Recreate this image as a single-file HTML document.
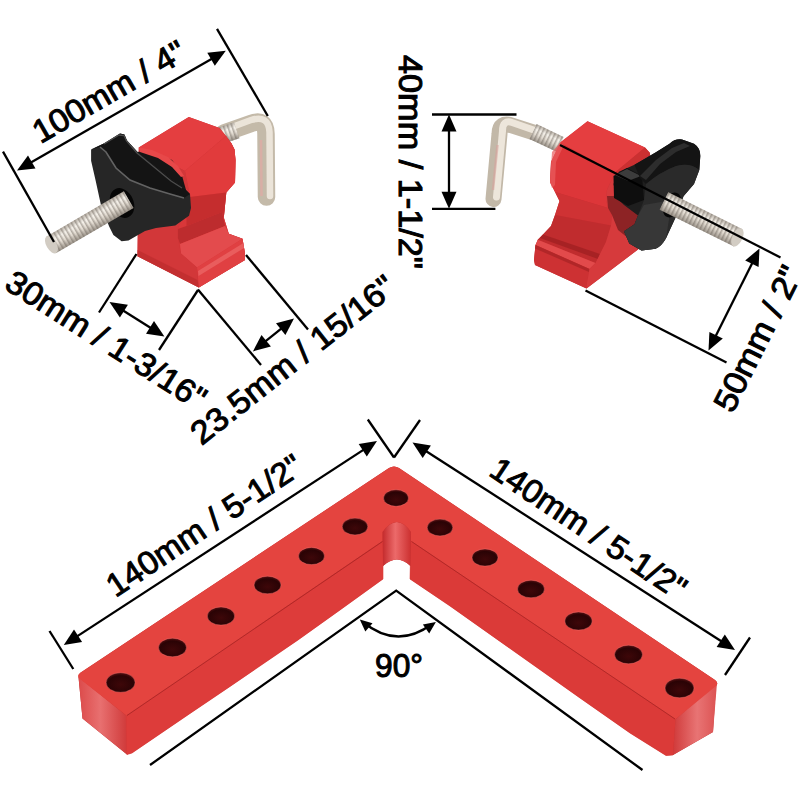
<!DOCTYPE html>
<html><head><meta charset="utf-8">
<style>
html,body{margin:0;padding:0;background:#fff;width:800px;height:800px;overflow:hidden}
svg{display:block}
text{font-family:"Liberation Sans",sans-serif;fill:#000}
</style></head>
<body>
<svg width="800" height="800" viewBox="0 0 800 800">
<defs>
  <linearGradient id="gEndL" x1="0" y1="0" x2="1" y2="0">
    <stop offset="0" stop-color="#dc4a4a"/><stop offset="0.45" stop-color="#e87070"/><stop offset="1" stop-color="#d03a3a"/>
  </linearGradient>
  <linearGradient id="gEndR" x1="0" y1="0" x2="1" y2="0">
    <stop offset="0" stop-color="#d03a3a"/><stop offset="0.55" stop-color="#e87474"/><stop offset="1" stop-color="#dc5252"/>
  </linearGradient>
  <radialGradient id="gHole" cx="0.5" cy="0.6" r="0.6">
    <stop offset="0" stop-color="#3e0709"/><stop offset="0.75" stop-color="#2a0305"/><stop offset="1" stop-color="#5a1012"/>
  </radialGradient>
  <linearGradient id="gNotch" x1="0" y1="0" x2="1" y2="0">
    <stop offset="0" stop-color="#c42a2c"/><stop offset="0.45" stop-color="#ec6a6a"/><stop offset="1" stop-color="#cc3030"/>
  </linearGradient>
  <linearGradient id="gBolt" x1="0" y1="0" x2="0" y2="1">
    <stop offset="0" stop-color="#a9a39b"/><stop offset="0.35" stop-color="#e6e0d8"/><stop offset="1" stop-color="#8e8880"/>
  </linearGradient>
  <linearGradient id="gRod" x1="0" y1="-1" x2="0" y2="1" gradientUnits="objectBoundingBox">
    <stop offset="0" stop-color="#8f877e"/><stop offset="0.3" stop-color="#e9e3da"/><stop offset="0.55" stop-color="#d2cbc1"/><stop offset="1" stop-color="#857d74"/>
  </linearGradient>
  <linearGradient id="gBoltV" x1="0" y1="0" x2="0" y2="1">
    <stop offset="0" stop-color="#b8b0a6"/><stop offset="0.3" stop-color="#f5f1ea"/><stop offset="0.6" stop-color="#e2dbd1"/><stop offset="1" stop-color="#9c948a"/>
  </linearGradient>
  <pattern id="pThread" width="4" height="40" patternUnits="userSpaceOnUse">
    <rect x="0" y="0" width="1.6" height="40" fill="#6a6258" opacity="0.45"/>
  </pattern>
  <linearGradient id="gKnob" x1="0" y1="0" x2="0" y2="1">
    <stop offset="0" stop-color="#2e2e2e"/><stop offset="1" stop-color="#0c0c0c"/>
  </linearGradient>

</defs>
<g id="bracket">
  <path d="M389,468 Q394,465 399,468 L715,680 Q719,683 716,686 L713,732 L673,755 L666,755.5 L630,733 L580,698 L450,606 L410,579 L410.5,566 Q397,553 383,566 L383,579 L340,610 L298,640 L230,686.5 L190,713.5 L132,753 L127,754.5 L82.5,718.5 L78.5,677 L80,673 Z" fill="#b82a2a"/>
  <polygon points="78.5,677 126.3,715.5 127,754.5 82.5,718.5" fill="url(#gEndL)"/>
  <polygon points="126.3,715.5 383,541 383,579 340,610 298,640 230,686.5 190,713.5 132,753 127,754.5" fill="#dd3c3a" stroke="#dd3c3a" stroke-width="0.6"/>
  <polygon points="411,541 675.5,719.3 673,755 666,755.5 630,733 580,698 450,606 410,579" fill="#db3a38" stroke="#db3a38" stroke-width="0.6"/>
  <polygon points="675.5,719.3 717,683 713,732 673,755" fill="url(#gEndR)"/>
  <path d="M382.5,532 Q397,512 411,532 L410.5,566 Q397,553 383,566 Z" fill="url(#gNotch)"/>
  <path d="M389,468 Q394,465 399,468 L715,680 Q719,683 716,686 L675.5,719.3 L411,541 L411,532 Q397,512 382.5,532 L382.5,541 L126.3,715.5 L80,679 Q76,676 80,673 Z" fill="#e4443f"/>
  <g stroke="#a82424" stroke-width="1" fill="none" opacity="0.8">
    <path d="M127,715.5 L382.5,541.5"/>
    <path d="M411.5,541.5 L675,719"/>
  </g>
  <g fill="url(#gHole)" stroke="#f27a76" stroke-width="0.7" stroke-opacity="0.55">
    <ellipse cx="120.6" cy="682.5" rx="14.5" ry="9.8"/>
    <ellipse cx="172.5" cy="647.5" rx="14.0" ry="9.3"/>
    <ellipse cx="221" cy="616" rx="13.7" ry="9.1"/>
    <ellipse cx="267.5" cy="585" rx="13.5" ry="8.8"/>
    <ellipse cx="311.5" cy="556" rx="13.0" ry="8.6"/>
    <ellipse cx="355" cy="526.5" rx="12.8" ry="8.4"/>
    <ellipse cx="396" cy="498" rx="12.5" ry="8.3"/>
    <ellipse cx="440" cy="527.5" rx="12.8" ry="8.4"/>
    <ellipse cx="485" cy="557.5" rx="13.0" ry="8.6"/>
    <ellipse cx="531" cy="589" rx="13.5" ry="8.8"/>
    <ellipse cx="578.5" cy="621" rx="13.7" ry="9.1"/>
    <ellipse cx="628.5" cy="654.5" rx="14.0" ry="9.3"/>
    <ellipse cx="679.5" cy="688" rx="14.5" ry="9.8"/>
  </g>
</g>

<!-- ===== CLAMP 1 (left) ===== -->
<g id="clamp1">
  <!-- hook -->
  <path d="M224,133 L251,123.5 Q266,118 266,134 L266.5,197" fill="none" stroke="#c4baa9" stroke-width="17.5" stroke-linecap="round" stroke-linejoin="round"/>
  <path d="M228,128.5 L251,120 Q268.5,114.5 269.5,132 L270,196" fill="none" stroke="#ede6db" stroke-width="6.5" stroke-linecap="round" opacity="0.95"/>
  <path d="M261,140 L261.5,196" stroke="#e2a9a4" stroke-width="2.5" opacity="0.7"/>
  <g transform="translate(214,138) rotate(-19)">
    <rect x="0" y="-8.5" width="24" height="17" fill="url(#gBoltV)"/>
    <rect x="0" y="-8.5" width="24" height="17" fill="url(#pThread)"/>
  </g>
  <path d="M138.8,147.5 L188.8,117 L219.5,128 L226,136 L231.5,143.5 L234.5,149.5 L235.5,160 L235,182.5 L226.3,192.5 L223.8,217.5 L228.8,233.8 L242.5,238.8 L245,253.5 L245,260 L198.8,287.5 L137.5,256.3 Z" fill="#c83034"/>
  <!-- top face -->
  <polygon points="138.8,147.5 188.8,117 219.5,128 226,136 185,171" fill="#e43e40"/>
  <!-- extruded S surface -->
  <path d="M185,171 L226,136 L231.5,143.5 L234.5,149.5 L235.5,160 L235,182.5 L226.3,192.5 L223.8,217.5 L228.8,233.8 L242.5,238.8 L245,253.5 L245,260 L198.8,287.5 L197,267.5 L181,253.5 L177.8,237.8 L177.8,229 L186.5,206 L190,195.8 Z" fill="#d93739"/>
  <!-- upper vertical part (bright) -->
  <path d="M185,171 L226,136 L231.5,143.5 L234.5,149.5 L235.5,160 L235,182.5 L226.3,192.5 L190,197 Z" fill="#e13b3c"/>
  <!-- concave waist dark band -->
  <path d="M190,197 L226.3,192.5 L223.8,217.5 L222,212 L186.5,226 L186.5,206 Z" fill="#c52d2e"/>
  <path d="M186.5,226 L222,212 L225,226 L180,244 L177.8,237.8 L177.8,229 Z" fill="#bd2c2e"/>
  <!-- foot step (lit) -->
  <path d="M180,244 L225,226 L228.8,233.8 L242.5,238.8 L197,267.5 L181,253.5 Z" fill="#e34b4d"/>
  <!-- foot front (lit) -->
  <path d="M197,267.5 L242.5,238.8 L245,253.5 L245,260 L198.8,287.5 Z" fill="#e04042"/>
  <path d="M198,271 L243.5,243 L244,248 L198.5,276 Z" fill="#f17474" opacity="0.55"/>
  <!-- near profile face (lower visible part) -->
  <path d="M138.8,147.5 L185,171 L190,195.8 L186.5,206 L177.8,229 L177.8,237.8 L181,253.5 L197,267.5 L198.8,287.5 L137.5,256.3 Z" fill="#d23739"/>
  <path d="M137.5,250 L197.5,280 L198.8,287.5 L137.5,256.3 Z" fill="#b92a2c" opacity="0.6"/>
  <!-- hub -->
  <path d="M136,152 L152,151 L172,160 L181,172 L186,190 L170,205 L140,200 Z" fill="#151515"/>
  <path d="M138.8,147.5 L152,150 L168,157 L178,166 L184,176 L181,177 L172,167 L158,158 L140,152 Z" fill="#e74849"/>
  <!-- knob -->
  <path d="M91.1,149.4 L104.3,143.3 L120,133.6 L124.4,134.5 L127,140.6 L137.5,152 L155,166 L172.5,180 L183,187 L190,194 L191,208 L189,215.8 L175.3,225.4 L156,228 L145,231 L135.4,236.4 L128.5,240.5 L121.6,241.2 L113.4,235 L109.3,226.8 L101.6,208 L95.5,180 L91.1,160.8 Z" fill="#262626"/>
  <!-- knob top surface -->
  <path d="M91.1,149.4 L104.3,143.3 L120,133.6 L124.4,134.5 L127,140.6 L137.5,152 L155,166 L172.5,180 L183,187 L190,194 L184,198 L170,194 L150,188 L130,180 L116,168 L106,152 L100,147 Z" fill="#141414"/>
  <path d="M100,147 L106,152 L116,168 L130,180 L150,188 L170,194 L184,198" fill="none" stroke="#6a6a6a" stroke-width="1.6" opacity="0.9"/>
  <path d="M104,144 L119,135 L124,135.5 L126.5,141 L137,153 L154,167 L171,181 L182,188" fill="none" stroke="#5a5a5a" stroke-width="1.3" opacity="0.8"/>
  <ellipse cx="122" cy="203" rx="11.5" ry="15.5" transform="rotate(-25 122 203)" fill="#060606"/>
  <!-- bolt -->
  <g transform="translate(51,245) rotate(-30.3)">
    <rect x="0" y="-9.6" width="90" height="19.2" fill="url(#gBoltV)"/>
    <rect x="4" y="-9.6" width="86" height="19.2" fill="url(#pThread)"/>
    <ellipse cx="0.5" cy="0" rx="5" ry="9.6" fill="#d2ccc3"/>
  </g>
</g>

<!-- ===== CLAMP 2 (right) ===== -->
<g id="clamp2">
  <!-- hook -->
  <path d="M540,134.5 L512,125.5 Q499.5,121.5 499.5,134 L493.5,199" fill="none" stroke="#c2b8a8" stroke-width="16" stroke-linecap="round" stroke-linejoin="round"/>
  <path d="M538,131.5 L512,122.5 Q502.5,119.5 502.5,131 L496.5,197" fill="none" stroke="#efe8dd" stroke-width="7" stroke-linecap="round" opacity="0.95"/>
  <path d="M497.5,145 L493,190" stroke="#d8a49e" stroke-width="2.5" opacity="0.6"/>
  <g transform="translate(533,131.5) rotate(25.5)">
    <rect x="0" y="-8.2" width="30" height="16.4" fill="url(#gBoltV)"/>
    <rect x="0" y="-8.2" width="30" height="16.4" fill="url(#pThread)"/>
  </g>
  <path d="M560,143 L587.5,121.3 L645,147.5 L650,153 L652,200 L645,240 L638,249.5 L586.5,288.5 L535,265 L534,260 L535.5,245 L537.75,239.75 L543,234.5 L551,226 L555,215 L559.5,201 L555,192 L550,182 L551,162 Z" fill="#c83034"/>
  <!-- extruded S surface (bands) -->
  <path d="M560,143 L551,162 L550,182 L555,192 L608,208 L606,200 L607,190 L615,172.5 Z" fill="#dd3639"/>
  <path d="M552,152 L560,143 L564,145 L556,162 L555,185 L552,188 L550,182 Z" fill="#ea5c5e" opacity="0.7"/>
  <path d="M555,192 L559.5,201 L555,215 L611,225.5 L612,215 L608,208 Z" fill="#cf3234"/>
  <path d="M555,215 L551,226 L543,234.5 L537.75,239.75 L595.5,263 L600,254 L606,242 L611,225.5 Z" fill="#c02c2e"/>
  <path d="M543,234.5 L600,254 L598,259 L540,238 Z" fill="#a02022" opacity="0.8"/>
  <path d="M537.75,239.75 L535.5,245 L589.5,269 L595.5,263 Z" fill="#e24a4b"/>
  <path d="M535.5,245 L534,260 L535,265 L586.5,288.5 L587,283 L589.5,269 Z" fill="#cd3133"/>
  <path d="M535.5,245 L589.5,269 L589,272 L535,248.5 Z" fill="#a52224" opacity="0.7"/>
  <!-- near end face -->
  <path d="M615,172.5 L607,190 L606,200 L608,208 L612,215 L611,225.5 L606,242 L600,254 L595.5,263 L589.5,269 L587,283 L586.5,288.5 L638,249.5 L645,240 L650,200 L650,156 Z" fill="#d63a3c"/>
  <!-- dark red shadow region under hub -->
  <path d="M607,196 L642,196 L639,236 L628,238 L618,230 L612,215 L608,208 Z" fill="#8d2325"/>
  <!-- top face -->
  <polygon points="560,142.5 587.5,121.3 645,147.5 615,172.5" fill="#e53e40"/>
  <path d="M615,172.5 L645,147.5 L650,153 L622,176 Z" fill="#cb3031"/>
  <!-- knob silhouette -->
  <path d="M618.8,171.8 L634.5,164.8 L655.5,152.5 L669.5,143.8 Q675,138.5 682,139.5 L694,143.8 Q700.5,148 700.3,156 L699.3,170 L694,184 L683.5,196.3 L676.5,215.5 L666,238.3 Q661,247 655.5,248.8 L641.5,250.5 L629.3,243.5 L624,231.3 L634.5,224.3 L638,215.5 L624,205 L617,198 L613.5,184 Z" fill="#1e1e1e"/>
  <!-- hub (hex nut) -->
  <path d="M613.5,176 L627,168 L642,176 L644,200 L628,206 L614,198 Z" fill="#0e0e0e"/>
  <path d="M615,175 L627,169 L641,176 L628,181 Z" fill="#3c3c3c"/>
  <!-- knob top surface -->
  <path d="M634.5,164.8 L655.5,152.5 L669.5,143.8 Q675,138.5 682,139.5 L694,143.8 Q700.5,148 700.3,156 L699.3,170 Q690,162 676,166 Q660,172 646,184 L640,178 Z" fill="#141414"/>
  <path d="M640,176 L656,160 L672,148 L684,143 L690,146 L676,152 L660,164 L646,180 Z" fill="#333" opacity="0.8"/>
  <!-- knob front face -->
  <path d="M646,184 Q660,172 676,166 Q690,162 699.3,170 L694,184 L683.5,196.3 L676.5,215.5 L666,238.3 Q661,247 655.5,248.8 L641.5,250.5 L629.3,243.5 L624,231.3 L634.5,224.3 L638,215.5 L644,200 Z" fill="#2a2a2a"/>
  <path d="M644,205 L672,200 L666,238.3 Q661,247 655.5,248.8 L641.5,250.5 L629.3,243.5 L624,231.3 L634.5,224.3 L638,215.5 Z" fill="#3a3a3a" opacity="0.85"/>
  <ellipse cx="672" cy="205" rx="8.5" ry="13" transform="rotate(22 672 205)" fill="#060606"/>
  <!-- bolt -->
  <g transform="translate(664,201) rotate(26.4)">
    <rect x="0" y="-9.7" width="83" height="19.4" fill="url(#gBoltV)"/>
    <rect x="0" y="-9.7" width="79" height="19.4" fill="url(#pThread)"/>
    <ellipse cx="82" cy="0" rx="5" ry="9.7" fill="#d2ccc3"/>
  </g>
</g>

<g stroke="#000" stroke-width="2.3" fill="none"><line x1="23.9" y1="166.5" x2="218.9" y2="54.8"/>
<line x1="116.3" y1="306.3" x2="157.6" y2="332.2"/>
<line x1="259.1" y1="346.4" x2="287.8" y2="323.4"/>
<line x1="449.0" y1="122.5" x2="449.0" y2="200.8"/>
<line x1="755.9" y1="255.7" x2="712.1" y2="343.3"/>
<line x1="70.5" y1="640.6" x2="370.3" y2="445.4"/>
<line x1="419.2" y1="446.8" x2="728.3" y2="645.7"/>
<line x1="3" y1="151.6" x2="54" y2="242"/>
<line x1="217" y1="28.8" x2="267.8" y2="116"/>
<line x1="136.5" y1="254" x2="99" y2="312.5"/>
<line x1="198" y1="290" x2="159" y2="350"/>
<line x1="197.9" y1="289.5" x2="261" y2="365"/>
<line x1="246" y1="255" x2="308" y2="329.4"/>
<line x1="432" y1="114.5" x2="516.5" y2="114.5"/>
<line x1="432" y1="208.8" x2="495.4" y2="208.8"/>
<line x1="585.5" y1="290.5" x2="726.5" y2="362.5"/>
<line x1="560" y1="145" x2="780.5" y2="257.5"/>
<line x1="49.5" y1="631" x2="73.3" y2="669"/>
<line x1="367.8" y1="419.5" x2="394" y2="457.5"/>
<line x1="394" y1="457.5" x2="420" y2="420"/>
<line x1="750" y1="637.5" x2="725" y2="675"/>
<polyline points="150,765 396.2,590.6 642.5,770"/>
<path d="M363,622 Q397,650 432,624"/></g>
<g fill="#000"><polygon points="225.8,50.8 214.8,65.8 207.3,52.7"/><polygon points="17.0,170.5 28.0,155.5 35.5,168.6"/>
<polygon points="164.4,336.5 146.0,333.8 154.0,321.1"/><polygon points="109.5,302.0 127.9,304.7 119.9,317.4"/>
<polygon points="294.0,318.4 285.4,334.9 276.0,323.2"/><polygon points="252.9,351.4 261.5,334.9 270.9,346.6"/>
<polygon points="449.0,208.8 441.5,191.8 456.5,191.8"/><polygon points="449.0,114.5 456.5,131.5 441.5,131.5"/>
<polygon points="708.5,350.5 709.4,331.9 722.8,338.6"/><polygon points="759.5,248.5 758.6,267.1 745.2,260.4"/>
<polygon points="377.0,441.0 366.8,456.6 358.7,444.0"/><polygon points="63.8,645.0 74.0,629.4 82.1,642.0"/>
<polygon points="735.0,650.0 716.6,647.1 724.8,634.5"/><polygon points="412.5,442.5 430.9,445.4 422.7,458.0"/>
<polygon points="359.8,619.5 372.5,623.2 365.3,631.5"/>
<polygon points="435.9,622.0 429.2,633.4 422.9,624.4"/></g>
<g font-size="32.5" stroke="#000" stroke-width="1.0">
<text transform="translate(40.4,144.0) rotate(-30)" textLength="171" lengthAdjust="spacingAndGlyphs">100mm / 4&quot;</text>
<text transform="translate(3,288) rotate(32.3)" textLength="230" lengthAdjust="spacingAndGlyphs">30mm / 1-3/16&quot;</text>
<text transform="translate(201.5,446) rotate(-38.3)" textLength="250" lengthAdjust="spacingAndGlyphs">23.5mm / 15/16&quot;</text>
<text transform="translate(398.5,55) rotate(90)" textLength="214" lengthAdjust="spacingAndGlyphs">40mm / 1-1/2&quot;</text>
<text transform="translate(732.4,414.2) rotate(-63.4)" textLength="158" lengthAdjust="spacingAndGlyphs">50mm / 2&quot;</text>
<text transform="translate(115.5,598.0) rotate(-33.7)" textLength="228" lengthAdjust="spacingAndGlyphs">140mm / 5-1/2&quot;</text>
<text transform="translate(487.5,474.5) rotate(33.7)" textLength="228" lengthAdjust="spacingAndGlyphs">140mm / 5-1/2&quot;</text>
<text x="375" y="676.5" textLength="48" lengthAdjust="spacingAndGlyphs">90°</text>
</g>
</svg>
</body></html>
